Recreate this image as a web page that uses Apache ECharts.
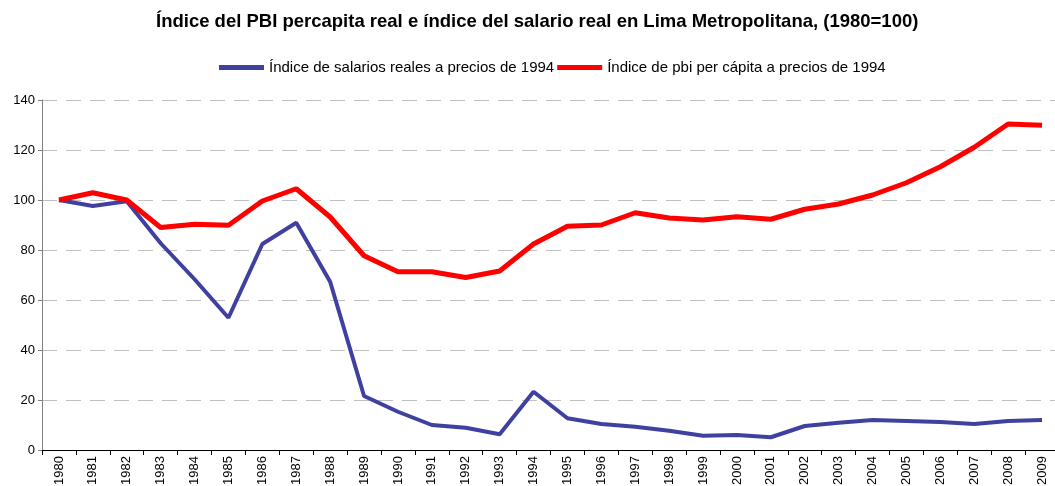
<!DOCTYPE html>
<html>
<head>
<meta charset="utf-8">
<script src="https://cdn.jsdelivr.net/npm/echarts@6/dist/echarts.min.js"></script>
<style>html,body{margin:0;padding:0;background:#fff}#c{width:1055px;height:486px}</style>
</head>
<body>
<div id="c"></div>
<script>
const years = ['1980','1981','1982','1983','1984','1985','1986','1987','1988','1989','1990','1991','1992','1993','1994','1995','1996','1997','1998','1999','2000','2001','2002','2003','2004','2005','2006','2007','2008','2009'];
const salarios = [100,97.6,99.5,82.7,68.3,52.9,82.4,90.9,67.3,21.6,15.3,10,8.9,6.3,23.3,12.7,10.4,9.3,7.7,5.7,6,5.1,9.6,10.9,12,11.6,11.2,10.4,11.6,12];
const pbi = [100,102.9,100,89,90.3,89.9,99.6,104.5,93.2,77.7,71.3,71.3,69,71.6,82.4,89.5,90,94.9,92.8,92,93.3,92.3,96.3,98.4,102,106.9,113.3,121.1,130.4,129.9];
const yTicks = [0,20,40,60,80,100,120,140];
const seriesNames = ['Índice de salarios reales a precios de 1994','Índice de pbi per cápita a precios de 1994'];
const titleText = 'Índice del PBI percapita real e índice del salario real en Lima Metropolitana, (1980=100)';

const chart = echarts.init(document.getElementById('c'), null, {renderer:'canvas'});
chart.setOption({
  animation:false,
  backgroundColor:'#fff',
  title:{text:titleText,left:151,top:7,textStyle:{fontFamily:'Liberation Sans',fontWeight:'bold',fontSize:18.5,color:'#000'}},
  legend:{top:55,left:214,itemWidth:45,itemHeight:5,itemGap:3,icon:'rect',
    textStyle:{fontFamily:'Liberation Sans',fontSize:15,color:'#000'},
    data:seriesNames},
  grid:{left:42,top:100,width:1017,bottom:36,containLabel:false,outerBoundsMode:'none'},
  xAxis:{type:'category',data:years,boundaryGap:true,
    axisLine:{lineStyle:{color:'#000',width:1}},
    axisTick:{show:true,length:5,lineStyle:{color:'#000'}},
    axisLabel:{rotate:90,fontFamily:'Liberation Sans',fontSize:13,color:'#000',margin:6,interval:0}},
  yAxis:{type:'value',min:0,max:140,interval:20,
    axisLine:{show:true,lineStyle:{color:'#808080'}},
    axisTick:{show:true,length:4,lineStyle:{color:'#808080'}},
    axisLabel:{fontFamily:'Liberation Sans',fontSize:13,color:'#000',margin:7,
      formatter:v=>yTicks.includes(v)?String(v):''},
    splitLine:{show:true,lineStyle:{color:'#c0c0c0',type:[15,9],width:1}}},
  series:[
    {name:seriesNames[0],type:'line',data:salarios,symbol:'none',
      lineStyle:{color:'#4040a0',width:4},itemStyle:{color:'#4040a0'}},
    {name:seriesNames[1],type:'line',data:pbi,symbol:'none',
      lineStyle:{color:'#ff0000',width:5},itemStyle:{color:'#ff0000'}}
  ]
});
</script>
</body>
</html>
